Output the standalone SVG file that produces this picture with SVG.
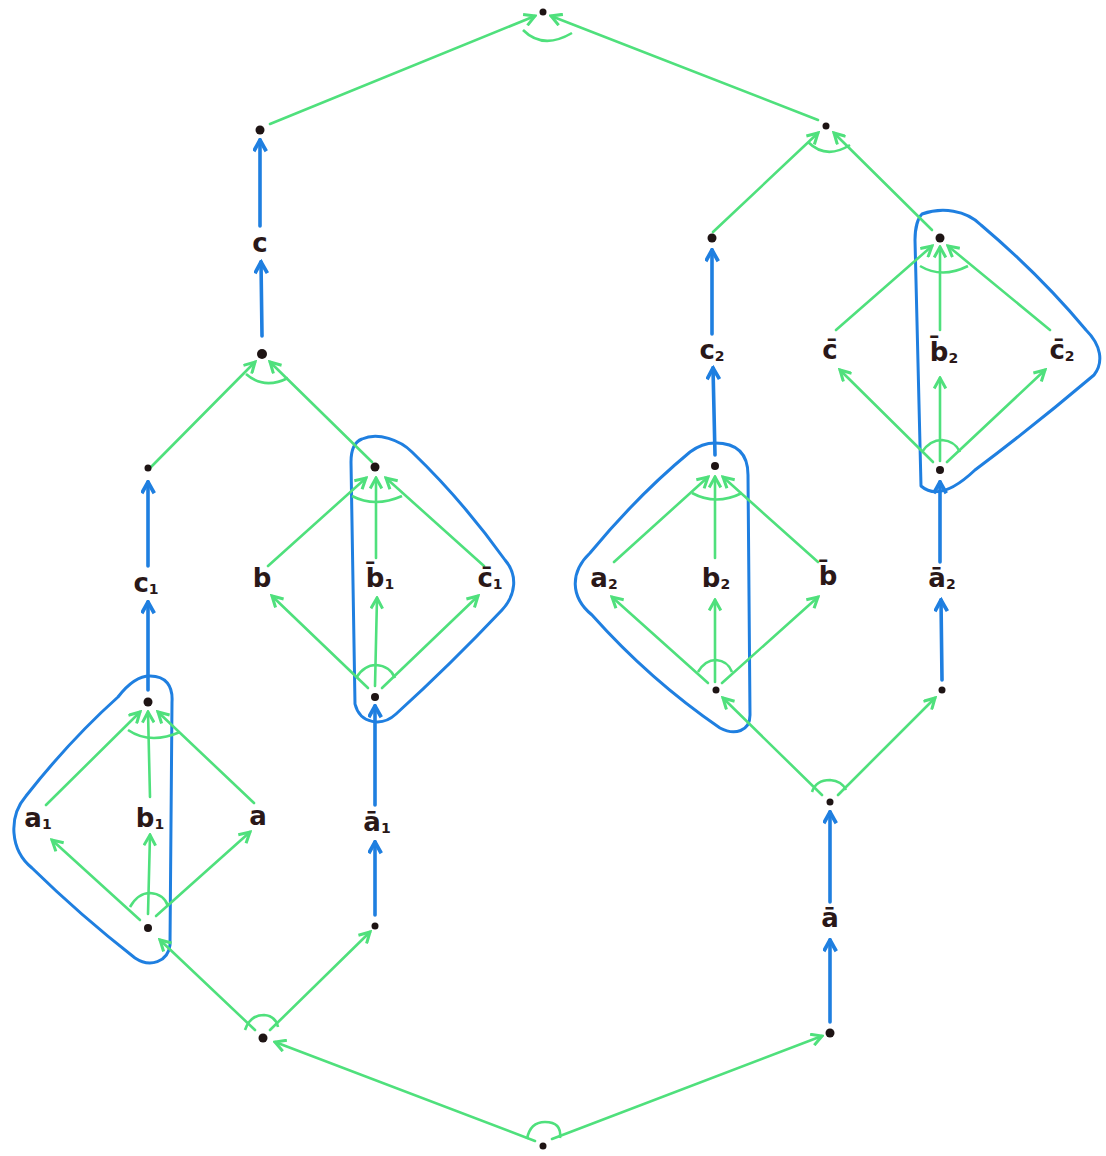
<svg xmlns="http://www.w3.org/2000/svg" width="1106" height="1156" viewBox="0 0 1106 1156">
<style>
.g{fill:none;stroke:#4fe07c;stroke-width:2.6;stroke-linecap:round}
.b{fill:none;stroke:#1f7fe0;stroke-width:3.6;stroke-linecap:round}
.hull{fill:none;stroke:#1f7fe0;stroke-width:3;stroke-linejoin:round}
.arc{fill:none;stroke:#4fe07c;stroke-width:2.6}
.dot{fill:#1e1414}
.lab{font-family:"DejaVu Sans",sans-serif;font-size:26px;font-weight:bold;fill:#2a1818;text-anchor:middle;dominant-baseline:central}
.sub{font-size:14px}
</style>
<defs>
<marker id="ag" viewBox="0 0 12 12" refX="10" refY="6" markerWidth="14" markerHeight="14" markerUnits="userSpaceOnUse" orient="auto"><path d="M1,1 L10,6 L1,11" fill="none" stroke="#4fe07c" stroke-width="2.6"/></marker>
<marker id="ab" viewBox="0 0 12 12" refX="10" refY="6" markerWidth="15" markerHeight="15" markerUnits="userSpaceOnUse" orient="auto"><path d="M1,1 L10,6 L1,11" fill="none" stroke="#1f7fe0" stroke-width="3"/></marker>
</defs>
<rect width="1106" height="1156" fill="#ffffff"/>

<g id="hulls">
<path class="hull" d="M150,676 C166,676 173,686 172,702 L170,945 C168,962 150,968 135,958 Q80,915 32,868 C10,850 8,817 26,796 Q70,740 118,697 C128,684 138,676 150,676 Z"/>
<path class="hull" d="M362,439 C378,432 400,440 412,452 Q462,500 505,560 C518,575 516,595 502,610 Q450,665 396,714 C382,727 360,724 355,704 L351,462 C351,450 354,442 362,439 Z"/>
<path class="hull" d="M715,443 C738,443 748,455 748,475 L750,715 C750,731 735,736 720,728 Q650,680 592,615 C570,597 570,572 590,553 Q638,495 690,452 C698,446 706,443 715,443 Z"/>
<path class="hull" d="M922,214 C942,207 966,210 981,225 Q1040,275 1086,330 C1101,345 1104,362 1094,375 Q1035,425 975,470 C956,488 936,499 921,486 L915,240 C915,228 918,218 922,214 Z"/>
</g>

<g id="connectors">
<path class="g" marker-end="url(#ag)" d="M535,1141 L275,1042"/>
<path class="g" marker-end="url(#ag)" d="M552,1139 L822,1036"/>
<path class="g" marker-end="url(#ag)" d="M255,1030 L160,940"/>
<path class="g" marker-end="url(#ag)" d="M270,1030 L370,932"/>
<path class="g" marker-end="url(#ag)" d="M140,920 L52,840"/>
<path class="g" marker-end="url(#ag)" d="M148,914 L150,835"/>
<path class="g" marker-end="url(#ag)" d="M156,916 L250,832"/>
<path class="g" marker-end="url(#ag)" d="M46,805 L140,712"/>
<path class="g" marker-end="url(#ag)" d="M150,797 L148,712"/>
<path class="g" marker-end="url(#ag)" d="M254,803 L158,712"/>
<path class="g" marker-end="url(#ag)" d="M150,468 L255,362"/>
<path class="g" marker-end="url(#ag)" d="M372,462 L270,362"/>
<path class="g" marker-end="url(#ag)" d="M368,688 L272,596"/>
<path class="g" marker-end="url(#ag)" d="M375,686 L377,598"/>
<path class="g" marker-end="url(#ag)" d="M382,688 L478,596"/>
<path class="g" marker-end="url(#ag)" d="M268,566 L366,478"/>
<path class="g" marker-end="url(#ag)" d="M376,558 L376,478"/>
<path class="g" marker-end="url(#ag)" d="M484,566 L386,478"/>
<path class="g" marker-end="url(#ag)" d="M270,124 L535,16"/>
<path class="g" marker-end="url(#ag)" d="M818,120 L551,16"/>
<path class="g" marker-end="url(#ag)" d="M713,232 L818,133"/>
<path class="g" marker-end="url(#ag)" d="M932,230 L834,133"/>
<path class="g" marker-end="url(#ag)" d="M822,795 L723,698"/>
<path class="g" marker-end="url(#ag)" d="M838,795 L935,698"/>
<path class="g" marker-end="url(#ag)" d="M708,683 L612,597"/>
<path class="g" marker-end="url(#ag)" d="M715,682 L715,600"/>
<path class="g" marker-end="url(#ag)" d="M722,683 L818,597"/>
<path class="g" marker-end="url(#ag)" d="M614,562 L708,477"/>
<path class="g" marker-end="url(#ag)" d="M715,558 L715,477"/>
<path class="g" marker-end="url(#ag)" d="M818,562 L723,477"/>
<path class="g" marker-end="url(#ag)" d="M933,462 L840,370"/>
<path class="g" marker-end="url(#ag)" d="M940,461 L940,378"/>
<path class="g" marker-end="url(#ag)" d="M947,462 L1045,370"/>
<path class="g" marker-end="url(#ag)" d="M836,330 L932,246"/>
<path class="g" marker-end="url(#ag)" d="M940,330 L940,247"/>
<path class="g" marker-end="url(#ag)" d="M1050,330 L948,246"/>
<path class="b" marker-end="url(#ab)" d="M148,690 L148,602"/>
<path class="b" marker-end="url(#ab)" d="M148,566 L148,482"/>
<path class="b" marker-end="url(#ab)" d="M262,336 L261,262"/>
<path class="b" marker-end="url(#ab)" d="M260,226 L260,140"/>
<path class="b" marker-end="url(#ab)" d="M375,915 L375,842"/>
<path class="b" marker-end="url(#ab)" d="M375,805 L375,706"/>
<path class="b" marker-end="url(#ab)" d="M715,455 L713,368"/>
<path class="b" marker-end="url(#ab)" d="M712,334 L712,250"/>
<path class="b" marker-end="url(#ab)" d="M830,1022 L830,940"/>
<path class="b" marker-end="url(#ab)" d="M830,902 L830,812"/>
<path class="b" marker-end="url(#ab)" d="M942,680 L941,600"/>
<path class="b" marker-end="url(#ab)" d="M940,562 L940,482"/>
<path class="arc" d="M523,30 Q543,50 572,33"/>
<path class="arc" d="M808,142 Q826,160 850,145"/>
<path class="arc" d="M246,374 Q264,390 288,378"/>
<path class="arc" d="M527,1139 Q530,1122 545,1122 Q562,1122 560,1138"/>
<path class="arc" d="M245,1030 Q250,1015 264,1015 Q276,1016 278,1027"/>
<path class="arc" d="M812,792 Q816,780 830,780 Q842,781 846,790"/>
<path class="arc" d="M128,730 Q150,745 180,732"/>
<path class="arc" d="M130,907 Q138,893 150,893 Q164,894 168,906"/>
<path class="arc" d="M352,496 Q375,508 402,496"/>
<path class="arc" d="M356,678 Q364,665 376,665 Q390,666 395,678"/>
<path class="arc" d="M692,493 Q716,506 742,493"/>
<path class="arc" d="M698,672 Q705,660 716,660 Q728,661 732,672"/>
<path class="arc" d="M920,266 Q942,279 968,266"/>
<path class="arc" d="M922,452 Q930,440 942,440 Q955,441 960,452"/>
</g>

<g id="n-top"><circle class="dot" cx="543" cy="12" r="3.5"/></g>
<g id="n-l0"><circle class="dot" cx="260" cy="130" r="4.5"/></g>
<g id="n-c"><text class="lab" x="260" y="243">c</text></g>
<g id="n-l1"><circle class="dot" cx="262" cy="354" r="5"/></g>
<g id="n-l2"><circle class="dot" cx="148" cy="468" r="3.5"/></g>
<g id="n-c1"><text class="lab" x="146" y="583">c<tspan class="sub" dy="6">1</tspan></text></g>
<g id="n-d1top"><circle class="dot" cx="148" cy="702" r="4.5"/></g>
<g id="n-a1"><text class="lab" x="38" y="818">a<tspan class="sub" dy="6">1</tspan></text></g>
<g id="n-b1"><text class="lab" x="150" y="818">b<tspan class="sub" dy="6">1</tspan></text></g>
<g id="n-a"><text class="lab" x="258" y="816">a</text></g>
<g id="n-d1bot"><circle class="dot" cx="148" cy="928" r="4"/></g>
<g id="n-lb"><circle class="dot" cx="263" cy="1038" r="4.5"/></g>
<g id="n-bot"><circle class="dot" cx="543" cy="1146" r="3.5"/></g>
<g id="n-m1"><circle class="dot" cx="375" cy="926" r="3.5"/></g>
<g id="n-abar1"><text class="lab" x="377" y="822">a&#x304;<tspan class="sub" dy="6">1</tspan></text></g>
<g id="n-d2bot"><circle class="dot" cx="375" cy="697" r="4"/></g>
<g id="n-b"><text class="lab" x="262" y="578">b</text></g>
<g id="n-bbar1"><text class="lab" x="380" y="578">b&#x304;<tspan class="sub" dy="6">1</tspan></text></g>
<g id="n-cbar1"><text class="lab" x="490" y="578">c&#x304;<tspan class="sub" dy="6">1</tspan></text></g>
<g id="n-d2top"><circle class="dot" cx="375" cy="467" r="4.5"/></g>
<g id="n-r0"><circle class="dot" cx="826" cy="126" r="3.5"/></g>
<g id="n-r1"><circle class="dot" cx="712" cy="238" r="4.5"/></g>
<g id="n-c2"><text class="lab" x="712" y="350">c<tspan class="sub" dy="6">2</tspan></text></g>
<g id="n-d3top"><circle class="dot" cx="715" cy="466" r="4"/></g>
<g id="n-a2"><text class="lab" x="604" y="578">a<tspan class="sub" dy="6">2</tspan></text></g>
<g id="n-b2"><text class="lab" x="716" y="578">b<tspan class="sub" dy="6">2</tspan></text></g>
<g id="n-bbar"><text class="lab" x="828" y="576">b&#x304;</text></g>
<g id="n-d3bot"><circle class="dot" cx="716" cy="690" r="3.5"/></g>
<g id="n-rf"><circle class="dot" cx="830" cy="802" r="3.5"/></g>
<g id="n-abar"><text class="lab" x="830" y="918">a&#x304;</text></g>
<g id="n-rb"><circle class="dot" cx="830" cy="1033" r="4.5"/></g>
<g id="n-r2"><circle class="dot" cx="942" cy="690" r="3.5"/></g>
<g id="n-abar2"><text class="lab" x="942" y="578">a&#x304;<tspan class="sub" dy="6">2</tspan></text></g>
<g id="n-d4bot"><circle class="dot" cx="940" cy="470" r="4"/></g>
<g id="n-cbar"><text class="lab" x="830" y="350">c&#x304;</text></g>
<g id="n-bbar2"><text class="lab" x="944" y="352">b&#x304;<tspan class="sub" dy="6">2</tspan></text></g>
<g id="n-cbar2"><text class="lab" x="1062" y="350">c&#x304;<tspan class="sub" dy="6">2</tspan></text></g>
<g id="n-d4top"><circle class="dot" cx="940" cy="238" r="4.5"/></g>
</svg>
